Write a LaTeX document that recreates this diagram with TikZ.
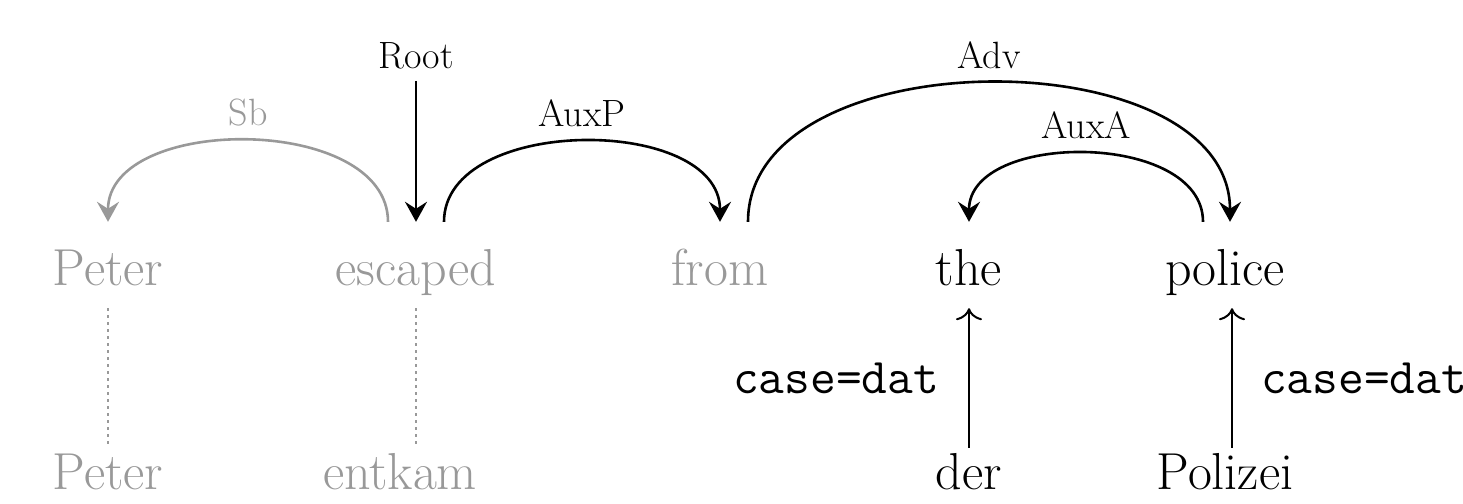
\documentclass[tikz,border=0pt]{standalone}
\usepackage{fontspec}
\usetikzlibrary{arrows.meta}
\definecolor{faded}{gray}{0.6}
\tikzset{
  word/.style={anchor=base, inner sep=0pt, text height=63pt, text depth=23pt, font=\fontsize{52}{60}\selectfont},
  gloss/.style={anchor=base, inner sep=0pt, text height=41pt, text depth=0pt, font=\fontsize{52}{60}\selectfont},
  lbl/.style={inner sep=0pt, font=\fontsize{38}{44}\selectfont},
  feat/.style={inner sep=0pt, font=\ttfamily\fontsize{50}{56}\selectfont},
  dep/.style={line width=2.6pt, -{Stealth[length=20pt,width=22pt,inset=7pt]}},
  lex/.style={line width=2pt, -{To[length=12pt,width=26pt]}},
  tieline/.style={faded, line width=2.4pt, dash pattern=on 2.4pt off 4.6pt}
}
\begin{document}
\begin{tikzpicture}[x=1pt, y=-1pt]
        \useasboundingbox (0,0) rectangle (1463,503);
        % English sentence
        \node[word, faded] (peter) at (108,285) {Peter};
        \node[word, faded] (escaped) at (416,285) {escaped};
        \node[word, faded] (from) at (720,285) {from};
        \node[word] (the) at (969,285) {the};
        \node[word] (police) at (1225,285) {police};
        % German sentence
        \node[gloss, faded] (peterde) at (108,489) {Peter};
        \node[gloss, faded] (entkam) at (400,489) {entkam};
        \node[gloss] (der) at (969,489) {der};
        \node[gloss] (polizei) at (1225,489) {Polizei};
        % Root
        \node[lbl, anchor=base] (root) at (416,68) {Root};
        \draw[dep, shorten <=12pt] (root.south) -- (escaped.north);
        % Dependency arcs
        \draw[dep, faded] ([xshift=-28pt]escaped.north) .. controls +(0pt,108pt) and +(0pt,108pt) .. (peter.north)
            node[lbl, pos=.5, above=13pt] (sb) {Sb};
        \draw[dep] ([xshift=28pt]escaped.north) .. controls +(0pt,107pt) and +(0pt,107pt) .. (from.north)
            node[lbl, pos=.5, above=13pt] (auxp) {AuxP};
        \draw[dep] ([xshift=28pt]from.north) .. controls +(0pt,185pt) and +(0pt,185pt) .. ([xshift=5pt]police.north)
            node[lbl, pos=.5, above=13pt] (adv) {Adv};
        \draw[dep] ([xshift=-22pt]police.north) .. controls +(0pt,91pt) and +(0pt,91pt) .. (the.north)
            node[lbl, pos=.5, above=13pt] (auxa) {AuxA};
        % Alignment
        \draw[tieline] (peter.south) -- (peterde.north);
        \draw[tieline] (escaped.south) -- ([xshift=16pt]entkam.north);
        \draw[lex] (der.north) -- (the.south) node[feat, midway, left=29pt] (casel) {case=dat};
        \draw[lex] ([xshift=7pt]polizei.north) -- ([xshift=7pt]police.south) node[feat, midway, right=28pt] (caser) {case=dat};
    \end{tikzpicture}
\end{document}
